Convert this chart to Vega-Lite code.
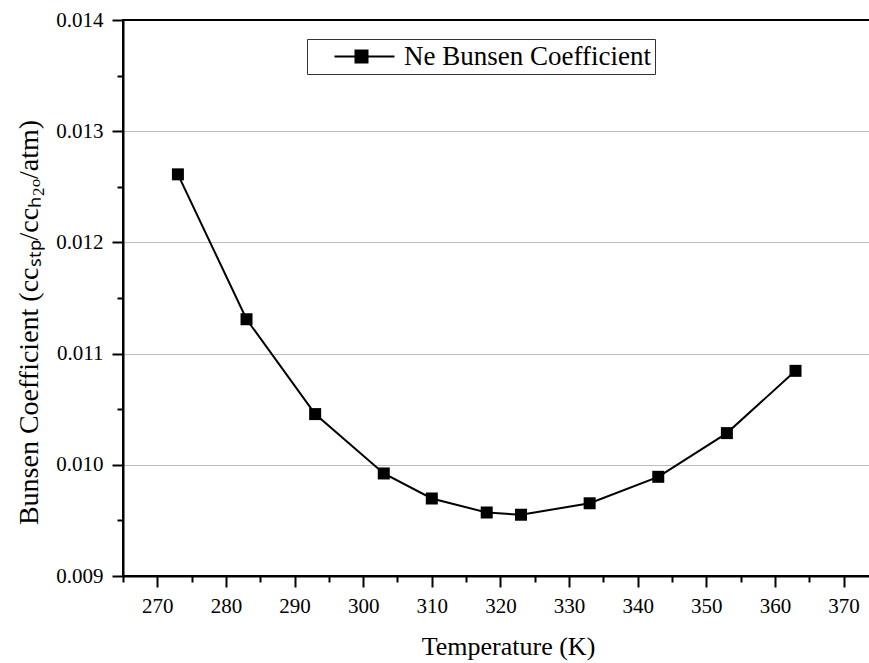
{
  "$schema": "https://vega.github.io/schema/vega-lite/v6.json",
  "width": 748,
  "height": 556,
  "autosize": {"type": "none"},
  "padding": {"left": 123, "top": 20, "right": 0, "bottom": 87},
  "background": "white",
  "config": {
    "font": "Liberation Serif",
    "view": {"stroke": "black", "strokeWidth": 2}
  },
  "data": {
    "values": [
      {"T": 273, "bunsen": 0.012612, "series": "Ne Bunsen Coefficient"},
      {"T": 283, "bunsen": 0.011309, "series": "Ne Bunsen Coefficient"},
      {"T": 293, "bunsen": 0.010456, "series": "Ne Bunsen Coefficient"},
      {"T": 303, "bunsen": 0.009922, "series": "Ne Bunsen Coefficient"},
      {"T": 310, "bunsen": 0.009697, "series": "Ne Bunsen Coefficient"},
      {"T": 318, "bunsen": 0.009571, "series": "Ne Bunsen Coefficient"},
      {"T": 323, "bunsen": 0.009551, "series": "Ne Bunsen Coefficient"},
      {"T": 333, "bunsen": 0.009654, "series": "Ne Bunsen Coefficient"},
      {"T": 343, "bunsen": 0.009892, "series": "Ne Bunsen Coefficient"},
      {"T": 353, "bunsen": 0.010285, "series": "Ne Bunsen Coefficient"},
      {"T": 363, "bunsen": 0.010845, "series": "Ne Bunsen Coefficient"}
    ]
  },
  "encoding": {
    "x": {
      "field": "T",
      "type": "quantitative",
      "scale": {"domain": [265, 374], "nice": false, "zero": false},
      "axis": {
        "title": "Temperature (K)",
        "values": [265, 270, 275, 280, 285, 290, 295, 300, 305, 310, 315, 320, 325, 330, 335, 340, 345, 350, 355, 360, 365, 370],
        "format": "d",
        "labelExpr": "datum.value % 10 === 0 ? datum.label : ''",
        "tickSize": {"condition": {"test": "datum.value % 10 === 0", "value": 11}, "value": 6},
        "tickColor": "black",
        "tickWidth": 2,
        "domainColor": "black",
        "domainWidth": 2,
        "labelFont": "Liberation Serif",
        "labelFontSize": 21,
        "labelColor": "black",
        "labelPadding": 8,
        "titleFont": "Liberation Serif",
        "titleFontSize": 26,
        "titleFontWeight": "normal",
        "titleColor": "black",
        "titlePadding": 17,
        "titleX": 385,
        "grid": false
      }
    },
    "y": {
      "field": "bunsen",
      "type": "quantitative",
      "scale": {"domain": [0.009, 0.014], "nice": false, "zero": false},
      "axis": {
        "title": "Bunsen Coefficient (ccₛₜₚ/ccₕ₂ₒ/atm)",
        "values": [0.009, 0.0095, 0.01, 0.0105, 0.011, 0.0115, 0.012, 0.0125, 0.013, 0.0135, 0.014],
        "format": ".3f",
        "labelExpr": "round(datum.value * 2000) % 2 === 0 ? datum.label : ''",
        "tickSize": {"condition": {"test": "round(datum.value * 2000) % 2 === 0", "value": 11}, "value": 6},
        "tickColor": "black",
        "tickWidth": 2,
        "domainColor": "black",
        "domainWidth": 2,
        "labelFont": "Liberation Serif",
        "labelFontSize": 21,
        "labelColor": "black",
        "labelPadding": 9,
        "titleFont": "Liberation Serif",
        "titleFontSize": 28,
        "titleFontWeight": "normal",
        "titleColor": "black",
        "titlePadding": 12,
        "titleY": 302,
        "grid": true,
        "gridColor": "#bdbdbd",
        "gridWidth": 1,
        "gridOpacity": {"condition": {"test": "round(datum.value * 2000) % 2 === 0 && datum.value > 0.0091 && datum.value < 0.0139", "value": 1}, "value": 0}
      }
    }
  },
  "layer": [
    {
      "mark": {"type": "line", "strokeWidth": 2},
      "encoding": {
        "color": {
          "field": "series",
          "type": "nominal",
          "scale": {"range": ["black"]},
          "legend": {
            "title": null,
            "orient": "none",
            "legendX": 184,
            "legendY": 19,
            "strokeColor": "#333333",
            "padding": 4,
            "symbolType": "M1.0,0H7.0M3.1,-0.6H4.3V0.6H3.1Z",
            "symbolSize": 400,
            "symbolStrokeWidth": 2,
            "symbolStrokeColor": "black",
            "symbolFillColor": "black",
            "labelFont": "Liberation Serif",
            "labelFontSize": 27,
            "labelColor": "black",
            "labelLimit": 0,
            "labelOffset": 66
          }
        }
      }
    },
    {
      "mark": {"type": "square", "size": 144, "filled": true, "opacity": 1, "color": "black"}
    }
  ]
}
